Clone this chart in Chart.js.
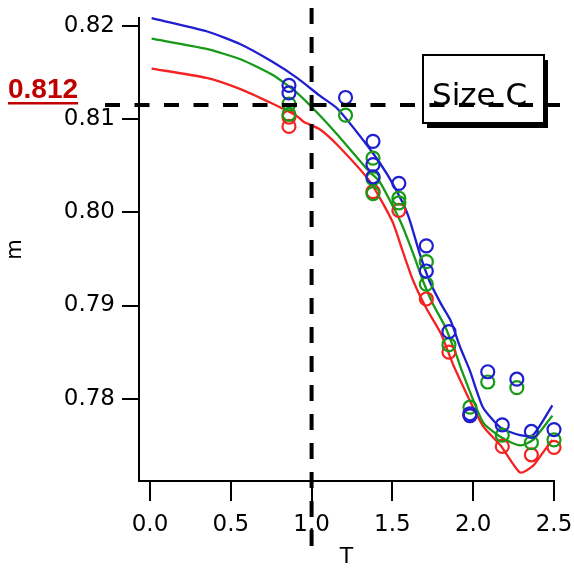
<!DOCTYPE html>
<html><head><meta charset="utf-8">
<script src="https://cdn.jsdelivr.net/npm/chart.js@4.4.1/dist/chart.umd.min.js"></script>
<style>html,body{margin:0;padding:0;background:#fff;overflow:hidden}#wrap{width:574px;height:570px;position:relative}</style>
</head><body><div id="wrap"><canvas id="c" width="574" height="570"></canvas></div>
<script>
// ---- data ----
const xTicks = [0, 0.5, 1.0, 1.5, 2.0, 2.5];
const xTickLabels = ['0.0', '0.5', '1.0', '1.5', '2.0', '2.5'];
const yTicks = [0.78, 0.79, 0.80, 0.81, 0.82];
const yTickLabels = ['0.78', '0.79', '0.80', '0.81', '0.82'];

const blueLineT = [0.01,0.35,0.56,0.76,0.91,1.05,1.16,1.36,1.47,1.57,1.61,1.67,1.73,1.80,1.86,1.92,1.98,2.06,2.17,2.29,2.37,2.49];
const blueLineM = [0.8208,0.8194,0.8180,0.8161,0.8144,0.8125,0.8111,0.8068,0.8040,0.8008,0.7990,0.7955,0.7926,0.7902,0.7884,0.7855,0.7830,0.7791,0.7769,0.7761,0.7761,0.7793];
const greenLineT = [0.01,0.35,0.56,0.76,0.91,1.05,1.16,1.36,1.42,1.55,1.63,1.69,1.75,1.83,1.90,1.93,2.06,2.17,2.29,2.37,2.49];
const greenLineM = [0.8186,0.8175,0.8164,0.8147,0.8128,0.8104,0.8083,0.8043,0.8033,0.7990,0.7955,0.7926,0.7902,0.7876,0.7845,0.7830,0.7775,0.7759,0.7750,0.7756,0.7782];
const redLineT = [0.01,0.35,0.56,0.75,0.91,0.95,1.05,1.16,1.36,1.50,1.57,1.63,1.71,1.80,1.88,2.06,2.17,2.29,2.37,2.43,2.49];
const redLineM = [0.8154,0.8144,0.8132,0.8117,0.8103,0.8097,0.8089,0.8072,0.8033,0.7990,0.7955,0.7926,0.7897,0.7870,0.7835,0.7771,0.7750,0.7721,0.7728,0.7742,0.7756];

const blueT = [0.86,0.86,1.21,1.38,1.38,1.38,1.54,1.71,1.71,1.85,1.98,1.98,2.09,2.18,2.27,2.36,2.5];
const blueM = [0.8136,0.8128,0.8123,0.8076,0.8051,0.8038,0.8031,0.7964,0.7937,0.7872,0.7784,0.7782,0.7829,0.7772,0.7821,0.7765,0.7767];
const greenT = [0.86,0.86,1.21,1.38,1.38,1.38,1.54,1.54,1.71,1.71,1.85,1.98,2.09,2.18,2.27,2.36,2.5];
const greenM = [0.8116,0.8105,0.8104,0.8058,0.8036,0.8020,0.8015,0.8010,0.7947,0.7923,0.7858,0.7791,0.7818,0.7761,0.7812,0.7753,0.7756];
const redT = [0.86,0.86,1.38,1.54,1.71,1.85,1.98,2.18,2.36,2.5];
const redM = [0.8102,0.8092,0.8022,0.8002,0.7907,0.7850,0.7782,0.7749,0.7740,0.7748];

const refT = 1.0;
const refM = 0.8115;
const refLabel = '0.812';
const boxLabel = 'Size C';

// ---- styles ----
const BLUE = '#1f1fd0', GREEN = '#179a17', RED = '#f52222';
const pts = (t, m) => t.map((v, i) => ({x: v, y: m[i]}));
const lineDs = (t, m, c) => ({data: pts(t, m), borderColor: c, borderWidth: 2.3, pointRadius: 0, showLine: true, fill: false, tension: 0.2, clip: false});
const ptDs = (t, m, c) => ({data: pts(t, m), borderColor: c, backgroundColor: 'rgba(0,0,0,0)', pointRadius: 6.5, pointBorderWidth: 2.2, pointHoverRadius: 6.5, showLine: false, clip: false});

const annot = {
  id: 'annot',
  afterDatasetsDraw(chart) {
    const ctx = chart.ctx, xs = chart.scales.x, ys = chart.scales.y;
    const vx = xs.getPixelForValue(refT), hy = ys.getPixelForValue(refM);
    ctx.save();
    const bx = 423, by = 55, bw = 121, bh = 68;
    ctx.fillStyle = '#000';
    ctx.fillRect(bx + 4, by + 5, bw, bh);
    ctx.fillStyle = '#fff';
    ctx.fillRect(bx, by, bw, bh);
    ctx.lineWidth = 2; ctx.strokeStyle = '#000';
    ctx.strokeRect(bx, by, bw, bh);
    ctx.lineWidth = 4; ctx.strokeStyle = '#000';
    ctx.setLineDash([15, 14.5]);
    ctx.beginPath(); ctx.moveTo(105, hy); ctx.lineTo(560, hy); ctx.stroke();
    ctx.setLineDash([16, 13]);
    ctx.beginPath(); ctx.moveTo(vx, 8); ctx.lineTo(vx, 552); ctx.stroke();
    ctx.setLineDash([]);
    ctx.fillStyle = '#000';
    ctx.font = '31px "DejaVu Sans"';
    ctx.textBaseline = 'alphabetic'; ctx.textAlign = 'left';
    ctx.fillText(boxLabel, 432, 105);
    ctx.fillStyle = '#c00000';
    ctx.font = 'bold 28px "Liberation Sans"';
    ctx.fillText(refLabel, 8, 98);
    const w = ctx.measureText(refLabel).width;
    ctx.fillRect(8, 102, w, 2.5);
    ctx.restore();
  }
};

new Chart(document.getElementById('c'), {
  type: 'scatter',
  data: {datasets: [
    ptDs(blueT, blueM, BLUE), ptDs(greenT, greenM, GREEN), ptDs(redT, redM, RED),
    lineDs(blueLineT, blueLineM, BLUE), lineDs(greenLineT, greenLineM, GREEN), lineDs(redLineT, redLineM, RED)
  ]},
  options: {
    responsive: false, animation: false, devicePixelRatio: 1,
    layout: {padding: {top: 18, right: 20, left: 0, bottom: 0}},
    plugins: {legend: {display: false}, tooltip: {enabled: false}},
    scales: {
      x: {
        type: 'linear', min: -0.068, max: 2.5,
        afterBuildTicks: s => { s.ticks = xTicks.map(v => ({value: v})); },
        afterFit: s => { s.height = 89; s.paddingLeft = 0; s.paddingRight = 0; },
        grid: {drawOnChartArea: false, drawTicks: true, tickLength: 20, color: '#000', lineWidth: 2},
        border: {display: true, color: '#000', width: 2},
        ticks: {color: '#000', font: {family: 'DejaVu Sans', size: 23}, padding: 10, maxRotation: 0, autoSkip: false,
                callback: (v, i) => xTickLabels[i]},
        title: {display: true, text: 'T', color: '#000', font: {family: 'DejaVu Sans', size: 22}, padding: {top: 0, bottom: 0}}
      },
      y: {
        type: 'linear', min: 0.77119, max: 0.82082,
        afterBuildTicks: s => { s.ticks = yTicks.map(v => ({value: v})); },
        afterFit: s => { s.width = 139; s.paddingTop = 0; s.paddingBottom = 0; },
        grid: {drawOnChartArea: false, drawTicks: true, tickLength: 17, color: '#000', lineWidth: 2},
        border: {display: true, color: '#000', width: 2},
        ticks: {color: '#000', font: {family: 'DejaVu Sans', size: 23}, padding: 7, autoSkip: false,
                callback: (v, i) => yTickLabels[i]},
        title: {display: true, text: 'm', color: '#000', font: {family: 'DejaVu Sans', size: 21}, padding: {top: 3, bottom: 0}}
      }
    }
  },
  plugins: [annot]
});
</script></body></html>
